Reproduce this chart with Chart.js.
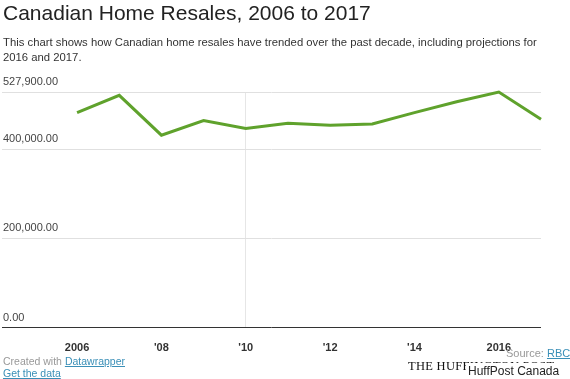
<!DOCTYPE html>
<html>
<head>
<meta charset="utf-8">
<script src="https://cdn.jsdelivr.net/npm/chart.js@4"></script>
<style>
  html, body { margin: 0; padding: 0; background: #fff; }
  body { width: 570px; height: 379px; position: relative; overflow: hidden; font-family: "Liberation Sans", Arial, sans-serif; }
  #c { position: absolute; left: 0; top: 0; }
  .t { position: absolute; white-space: nowrap; }
  #title { left: 3px; top: 1px; font-size: 21px; color: #222; line-height: normal; }
  #sub { left: 3px; top: 35px; font-size: 11.3px; color: #333; line-height: 15px; }
  #created { left: 3px; top: 355px; font-size: 10.5px; color: #999; }
  #getdata { left: 3px; top: 367px; font-size: 10.5px; }
  a { color: #3a8fb7; text-decoration: underline; }
  #source { left: 506px; top: 347px; font-size: 11px; color: #999; }
  #huff { left: 408px; top: 359px; font-family: "Liberation Serif", "Times New Roman", serif; font-size: 12.5px; color: #111; letter-spacing: 0.3px; }
  #hpbox { position: absolute; left: 466px; top: 363px; width: 104px; height: 16px; background: #fff; }
  #hp { left: 468px; top: 364px; font-size: 12px; color: #222; }
</style>
</head>
<body>
<canvas id="c" width="570" height="379"></canvas>
<div class="t" id="title">Canadian Home Resales, 2006 to 2017</div>
<div class="t" id="sub">This chart shows how Canadian home resales have trended over the past decade, including projections for<br>2016 and 2017.</div>
<div class="t" id="created">Created with <a>Datawrapper</a></div>
<div class="t" id="getdata"><a>Get the data</a></div>
<div class="t" id="huff">THE HUFFINGTON POST</div>
<div id="hpbox"></div>
<div class="t" id="hp">HuffPost Canada</div>
<div class="t" id="source">Source: <a>RBC</a>,</div>
<script>
const years = [2006, 2007, 2008, 2009, 2010, 2011, 2012, 2013, 2014, 2015, 2016, 2017];
const resales = [481700, 520500, 431200, 463800, 446000, 458000, 453600, 456500, 481700, 506000, 527900, 467000];
const yTicks = [0, 200000, 400000, 527900];
const xTicks = [2006, 2008, 2010, 2012, 2014, 2016];
const xTickLabels = ['2006', "'08", "'10", "'12", "'14", '2016'];

const fmt = v => Number(v).toLocaleString('en-US', { minimumFractionDigits: 2, maximumFractionDigits: 2 });

new Chart(document.getElementById('c'), {
  type: 'line',
  data: {
    datasets: [{
      data: years.map((y, i) => ({ x: y, y: resales[i] })),
      borderColor: '#5fa22c',
      borderWidth: 3,
      pointRadius: 0,
      tension: 0,
      clip: false
    }]
  },
  options: {
    responsive: false,
    animation: false,
    layout: { padding: { left: 0, right: 29, top: 92, bottom: 11 } },
    plugins: { legend: { display: false }, tooltip: { enabled: false } },
    scales: {
      x: {
        type: 'linear',
        min: 2004.22,
        max: 2017,
        afterBuildTicks: s => { s.ticks = xTicks.map(v => ({ value: v })); },
        ticks: {
          autoSkip: false,
          maxRotation: 0,
          padding: 13.5,
          color: '#333',
          font: { family: 'Liberation Sans', size: 11, weight: 'bold' },
          callback: v => xTickLabels[xTicks.indexOf(v)]
        },
        grid: {
          drawTicks: false,
          color: ctx => (ctx.tick && ctx.tick.value === 2010) ? '#e6e6e6' : 'rgba(0,0,0,0)'
        },
        border: { display: false }
      },
      y: {
        min: 0,
        max: 527900,
        afterBuildTicks: s => { s.ticks = yTicks.map(v => ({ value: v })); },
        ticks: {
          mirror: true,
          padding: 1,
          labelOffset: -10,
          color: '#444',
          font: { family: 'Liberation Sans', size: 11 },
          callback: v => fmt(v)
        },
        grid: {
          drawTicks: false,
          color: ctx => (ctx.tick && ctx.tick.value === 0) ? '#333' : '#e0e0e0'
        },
        border: { display: false }
      }
    }
  }
});
</script>
</body>
</html>
